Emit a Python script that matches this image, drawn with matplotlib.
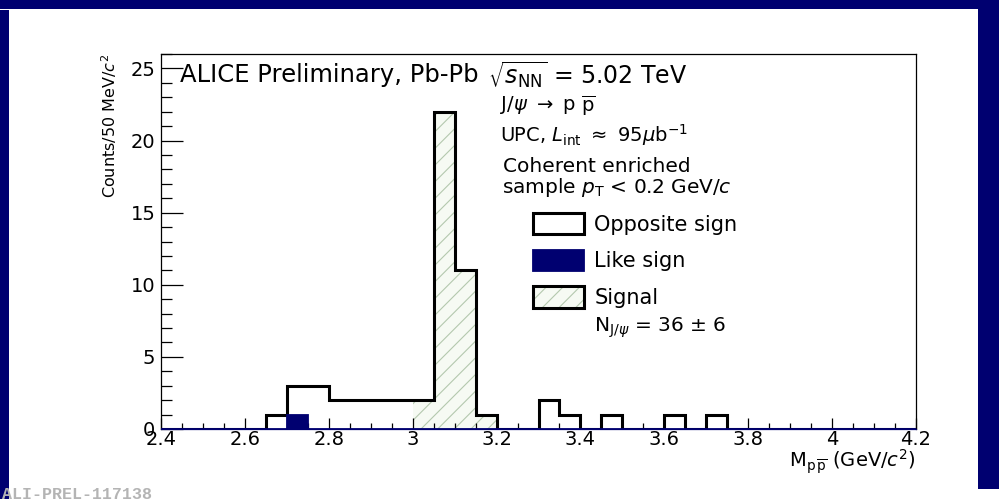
import numpy as np
import matplotlib
matplotlib.use("Agg")
import matplotlib.pyplot as plt
from matplotlib.patches import Patch, Rectangle
from matplotlib.ticker import MultipleLocator
from matplotlib import font_manager

# Invariant mass binning: 50 MeV bins between 2.4 and 4.2 GeV/c^2
bin_edges = np.round(np.arange(2.4, 4.2001, 0.05), 3)

# Non-empty bins (lower edge -> counts)
opposite_sign_counts = {2.65: 1, 2.70: 3, 2.75: 3, 2.80: 2, 2.85: 2, 2.90: 2, 2.95: 2,
                        3.00: 2, 3.05: 22, 3.10: 11, 3.15: 1,
                        3.30: 2, 3.35: 1, 3.45: 1, 3.60: 1, 3.70: 1}
like_sign_counts = {2.70: 1}
signal_counts = {3.00: 2, 3.05: 22, 3.10: 11, 3.15: 1}

legend_labels = ["Opposite sign", "Like sign", "Signal"]
x_ticks = [2.4, 2.6, 2.8, 3.0, 3.2, 3.4, 3.6, 3.8, 4.0, 4.2]
x_tick_labels = ["2.4", "2.6", "2.8", "3", "3.2", "3.4", "3.6", "3.8", "4", "4.2"]
y_ticks = [0, 5, 10, 15, 20, 25]


def fill_bins(counts):
    vals = np.zeros(len(bin_edges) - 1)
    for lo, n in counts.items():
        vals[int(round((lo - 2.4) / 0.05))] = n
    return vals


opp = fill_bins(opposite_sign_counts)
like = fill_bins(like_sign_counts)
sig = fill_bins(signal_counts)

W, H = 999, 499
navy = "#000070"
hatch_col = "#b4c8ae"
sig_face = "#f6faf3"

available = {f.name for f in font_manager.fontManager.ttflist}
narrow = "Liberation Sans Narrow" if "Liberation Sans Narrow" in available else "DejaVu Sans"
narrow_size = 14 if narrow != "DejaVu Sans" else 11.5

plt.rcParams["font.family"] = ["DejaVu Sans"]
plt.rcParams["mathtext.fontset"] = "dejavusans"
plt.rcParams["hatch.linewidth"] = 0.8

fig = plt.figure(figsize=(W / 100, H / 100), dpi=100)
fig.patch.set_facecolor("white")


def px(x, y):
    return x / W, 1 - y / H


# dark frame around the canvas
fig.patches.append(Rectangle((0, 0), 9 / W, 1 - 10 / H, transform=fig.transFigure,
                             facecolor=navy, edgecolor="none", zorder=0))
fig.patches.append(Rectangle((0, 1 - 9 / H), 1, 9 / H, transform=fig.transFigure,
                             facecolor=navy, edgecolor="none", zorder=0))
fig.patches.append(Rectangle((978 / W, 10 / H), 21 / W, 1 - 10 / H, transform=fig.transFigure,
                             facecolor=navy, edgecolor="none", zorder=0))

ax = fig.add_axes([161 / W, 1 - 429 / H, (916 - 161) / W, (429 - 54) / H])
ax.set_facecolor("white")

ax.stairs(sig, bin_edges, fill=True, facecolor=sig_face, edgecolor=hatch_col,
          hatch="//", linewidth=0, zorder=1)
ax.stairs(opp, bin_edges, fill=False, edgecolor="black", linewidth=2.2, zorder=2)
ax.stairs(like, bin_edges, fill=True, facecolor=navy, edgecolor=navy, linewidth=1.3, zorder=3)

ax.set_xlim(2.4, 4.2)
ax.set_ylim(0, 26)
ax.set_xticks(x_ticks)
ax.set_xticklabels(x_tick_labels)
ax.set_yticks(y_ticks)
ax.xaxis.set_minor_locator(MultipleLocator(0.05))
ax.yaxis.set_minor_locator(MultipleLocator(1))
ax.tick_params(axis="x", which="major", direction="in", length=8, width=0.9, labelsize=14, pad=1)
ax.tick_params(axis="x", which="minor", direction="in", length=4.3, width=0.9)
ax.tick_params(axis="y", which="major", direction="in", length=16, width=0.9, labelsize=14, pad=4)
ax.tick_params(axis="y", which="minor", direction="in", length=8, width=0.9)
for s in ax.spines.values():
    s.set_linewidth(0.9)
ax.spines["bottom"].set_color(navy)

ax.set_xlabel(r"M$_{\rm p\,\overline{p}}$ (GeV/$c^{2}$)", loc="right", fontsize=14, labelpad=-1)
ax.set_ylabel(r"Counts/50 MeV/$c^{2}$", loc="top", fontsize=narrow_size,
              family=narrow, labelpad=8)

fig.text(*px(180, 75), "ALICE Preliminary, Pb-Pb", fontsize=17.5, va="center")
fig.text(*px(488, 75), r"$\sqrt{s_{\rm NN}}$ = 5.02 TeV", fontsize=17, va="center")
fig.text(*px(500, 106), r"J/$\psi$ $\rightarrow$ p $\overline{\rm p}$", fontsize=14, va="center")
fig.text(*px(500, 135), r"UPC, $L_{\rm int}$ $\approx$ 95$\mu$b$^{-1}$", fontsize=14, va="center")
fig.text(*px(503, 166), "Coherent enriched", fontsize=14.5, va="center")
fig.text(*px(502, 188), r"sample $p_{\rm T}$ < 0.2 GeV/$c$", fontsize=14.5, va="center")
fig.text(*px(594, 328), r"N$_{{\rm J}/\psi}$ = 36 $\pm$ 6", fontsize=14.5, va="center")

outline = Patch(facecolor="none", edgecolor="black", linewidth=2.2)
handles = [
    Patch(facecolor="white", edgecolor="black", linewidth=2.2),
    Patch(facecolor=navy, edgecolor=navy, linewidth=1.3),
    (Patch(facecolor=sig_face, edgecolor=hatch_col, linewidth=0, hatch="//"), outline),
]
leg = ax.legend(handles, legend_labels, loc="upper left", bbox_to_anchor=px(533, 213),
                bbox_transform=fig.transFigure, frameon=False, fontsize=15,
                handlelength=2.45, handleheight=1.2, handletextpad=0.5,
                labelspacing=0.72, borderpad=0, borderaxespad=0)

fig.text(*px(2, 487), "ALI-PREL-117138", fontsize=12, color="#b4b4b4",
         family="Liberation Mono", weight="bold", va="top")

fig.savefig("out.png", dpi=100)
